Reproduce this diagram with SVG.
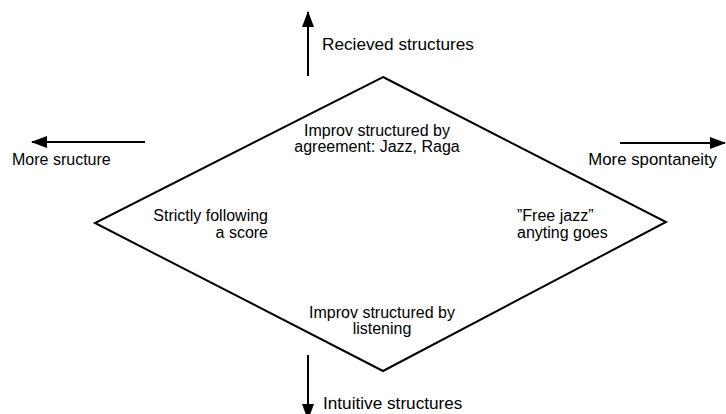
<svg xmlns="http://www.w3.org/2000/svg" width="726" height="414" viewBox="0 0 726 414">
<defs>
<style>
text{font-family:"Liberation Sans",Arial,sans-serif;font-size:16px;fill:#000}
.big{font-size:17.2px}
.ln{stroke:#000;stroke-width:2;fill:none}
.shape{stroke:#000;stroke-width:2;fill:#fff}
</style>
<marker id="ah" markerWidth="8" markerHeight="6" refX="7.5" refY="3" orient="auto" markerUnits="strokeWidth">
<path d="M0,0 L8,3 L0,6 Z" fill="#000"/>
</marker>
</defs>
<rect width="726" height="414" fill="#fff"/>
<g id="diamond">
<polygon class="shape" points="383,77 666,222 383,371 95,223"/>
</g>
<g id="connectors">
<line class="ln" x1="308" y1="76" x2="308" y2="12" marker-end="url(#ah)"/>
<line class="ln" x1="145" y1="142" x2="32" y2="142" marker-end="url(#ah)"/>
<line class="ln" x1="620" y1="143" x2="725" y2="143" marker-end="url(#ah)"/>
<line class="ln" x1="308" y1="355" x2="308" y2="419" marker-end="url(#ah)"/>
</g>
<g id="label-up"><text class="big" x="322" y="50">Recieved structures</text></g>
<g id="label-left"><text x="12" y="165">More sructure</text></g>
<g id="label-right"><text x="717" y="165" text-anchor="end" style="font-size:16.8px">More spontaneity</text></g>
<g id="label-down"><text class="big" x="323" y="409">Intuitive structures</text></g>
<g id="node-top"><text x="377" y="136" text-anchor="middle">Improv structured by</text><text x="377" y="152" text-anchor="middle">agreement: Jazz, Raga</text></g>
<g id="node-left"><text x="268" y="221" text-anchor="end">Strictly following</text><text x="268" y="238" text-anchor="end">a score</text></g>
<g id="node-right"><text x="517" y="221">”Free jazz”</text><text x="517" y="238">anyting goes</text></g>
<g id="node-bottom"><text x="382" y="318" text-anchor="middle">Improv structured by</text><text x="382" y="334" text-anchor="middle">listening</text></g>
</svg>
